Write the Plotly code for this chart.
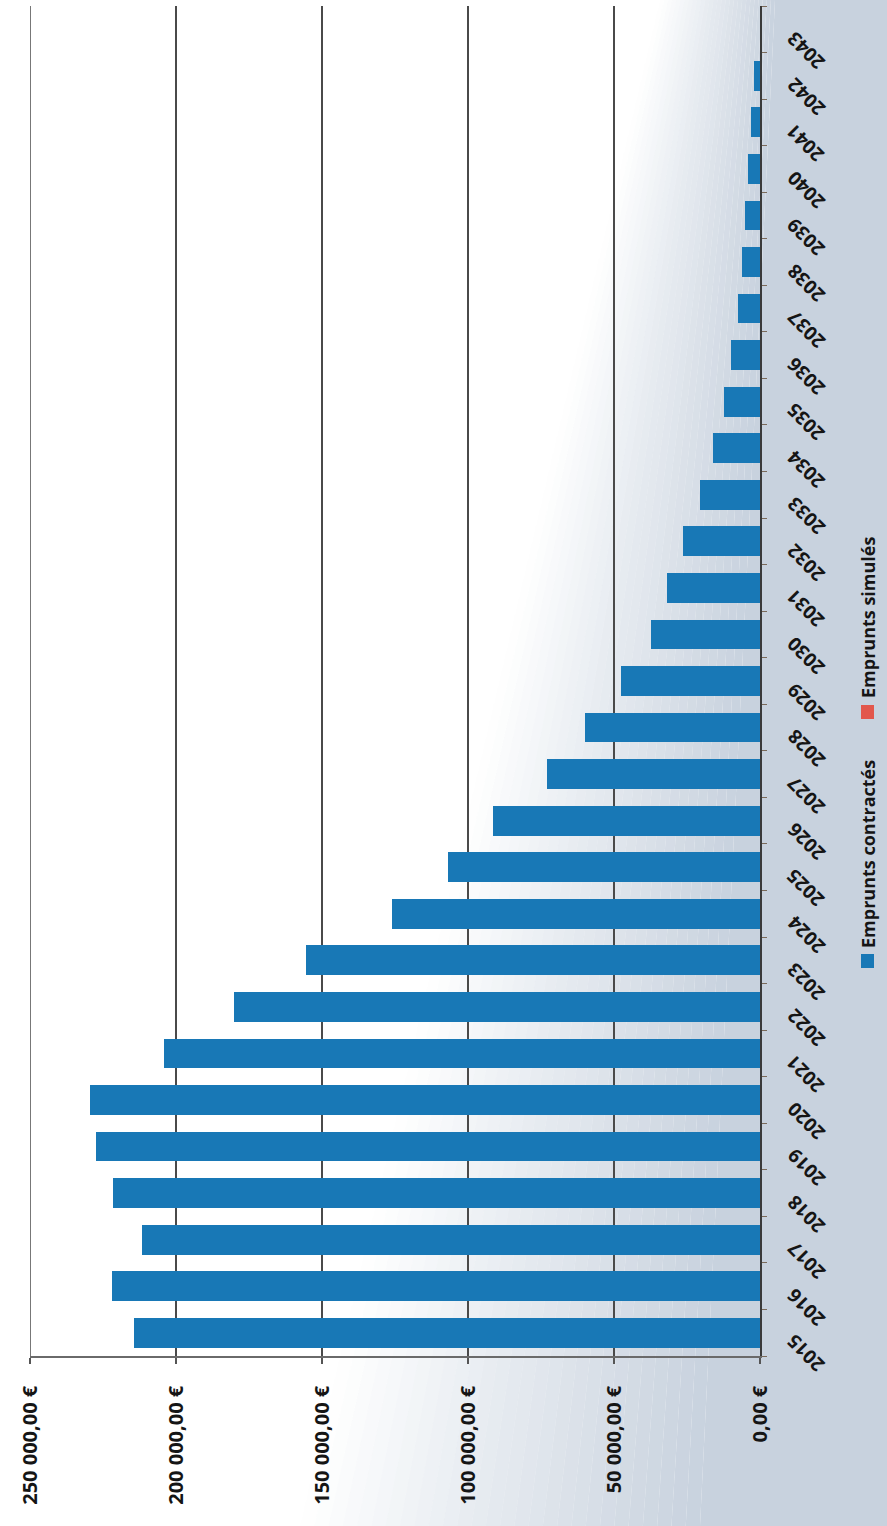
import plotly.graph_objects as go

# Annual loan repayment profile, 2015-2043
years = [str(y) for y in range(2015, 2044)]
emprunts_contractes = [
    214500, 222000, 211500, 221500, 227500, 229500, 204000, 180000,
    155500, 126000, 107000, 91500, 73000, 60000, 47500, 37500,
    32000, 26500, 20500, 16000, 12500, 10000, 7500, 6000,
    5000, 4000, 3000, 2000, 0,
]
emprunts_simules = [0] * len(years)

value_ticks = [0, 50000, 100000, 150000, 200000, 250000]
value_tick_labels = ["0,00 €", "50 000,00 €", "100 000,00 €", "150 000,00 €",
                     "200 000,00 €", "250 000,00 €"]

series_names = ["Emprunts contractés", "Emprunts simulés"]
series_colors = ["#1878b6", "#e2574c"]

W, H = 887, 1526
ML, MR, MT, MB = 30, 127, 6, 170
PW, PH = W - ML - MR, H - MT - MB
FONT = "Open Sans"
INK = "#151515"


def px_x(px):
    return (px - ML) / PW


def px_y(py):
    return (H - MB - py) / PH


fig = go.Figure()
fig.add_trace(go.Bar(
    y=years, x=emprunts_contractes, orientation="h", name=series_names[0],
    marker=dict(color=series_colors[0], line=dict(width=0)), width=0.64,
))
fig.add_trace(go.Bar(
    y=years, x=emprunts_simules, orientation="h", name=series_names[1],
    marker=dict(color=series_colors[1], line=dict(width=0)), width=0.64,
))

# greyish-blue tint on the right side of the sheet
shapes = []
tint = "rgb(200,210,222)"
N = 28


def band_x(y_px, f):
    s = 660 + (300 - 660) * y_px / H
    e = 775 + (700 - 775) * y_px / H
    return s + f * (e - s)


for i in range(N):
    f0, f1 = i / N, (i + 1) / N
    pts = [(band_x(0, f0), 0), (band_x(0, f1), 0), (band_x(H, f1), H), (band_x(H, f0), H)]
    path = "M " + " L ".join(f"{px_x(a):.5f},{px_y(b):.5f}" for a, b in pts) + " Z"
    shapes.append(dict(type="path", xref="paper", yref="paper", path=path,
                       fillcolor=tint, opacity=(i + 0.5) / N, line=dict(width=0),
                       layer="below"))
pts = [(band_x(0, 1), 0), (W, 0), (W, H), (band_x(H, 1), H)]
path = "M " + " L ".join(f"{px_x(a):.5f},{px_y(b):.5f}" for a, b in pts) + " Z"
shapes.append(dict(type="path", xref="paper", yref="paper", path=path,
                   fillcolor=tint, opacity=1, line=dict(width=0), layer="below"))

# gridline at the top of the value scale
shapes.append(dict(type="line", xref="x", yref="paper", x0=value_ticks[-1], x1=value_ticks[-1],
                   y0=0, y1=1, line=dict(color="#4a4a4a", width=1.5)))

# legend swatches
shapes.append(dict(type="rect", xref="paper", yref="paper",
                   x0=px_x(861), x1=px_x(874), y0=px_y(968), y1=px_y(954),
                   fillcolor=series_colors[0], line=dict(width=0)))
shapes.append(dict(type="rect", xref="paper", yref="paper",
                   x0=px_x(861), x1=px_x(874), y0=px_y(719), y1=px_y(705),
                   fillcolor=series_colors[1], line=dict(width=0)))

annotations = []
for i, yr in enumerate(years):
    annotations.append(dict(
        x=px_x(806), xref="paper", y=i, yref="y", yshift=-21,
        text=f"<b>{yr}</b>", textangle=-135, showarrow=False,
        xanchor="center", yanchor="middle",
        font=dict(family=FONT, size=19, color=INK),
    ))
annotations.append(dict(
    x=px_x(868), xref="paper", y=px_y(854), yref="paper",
    text=f"<b>{series_names[0]}</b>", textangle=-90, showarrow=False,
    xanchor="center", yanchor="middle",
    font=dict(family=FONT, size=18, color=INK),
))
annotations.append(dict(
    x=px_x(868), xref="paper", y=px_y(618), yref="paper",
    text=f"<b>{series_names[1]}</b>", textangle=-90, showarrow=False,
    xanchor="center", yanchor="middle",
    font=dict(family=FONT, size=18, color=INK),
))

fig.update_layout(
    width=W, height=H,
    margin=dict(l=ML, r=MR, t=MT, b=MB, pad=0),
    paper_bgcolor="white", plot_bgcolor="rgba(0,0,0,0)",
    barmode="stack", showlegend=False,
    shapes=shapes, annotations=annotations,
    font=dict(family=FONT, color=INK),
    xaxis=dict(
        range=[250000, 0], tickvals=value_ticks, ticktext=value_tick_labels,
        tickangle=-90, tickfont=dict(family=FONT, size=20, weight="bold", color=INK),
        showgrid=True, gridcolor="#4a4a4a", gridwidth=1.5,
        showline=True, linecolor="#6a6a6a", linewidth=1.5,
        ticks="outside", ticklen=6, tickcolor="#555555", tickwidth=1.5,
        ticklabelstandoff=14, zeroline=False,
    ),
    yaxis=dict(
        type="category", side="right", range=[-0.5, len(years) - 0.5],
        showticklabels=False, showgrid=False, zeroline=False,
        showline=True, linecolor="#3a3a3a", linewidth=1.5,
        ticks="outside", tickson="boundaries", ticklen=5,
        tickcolor="#7a6a5a", tickwidth=1.2,
    ),
)

fig.write_html("out.html")
